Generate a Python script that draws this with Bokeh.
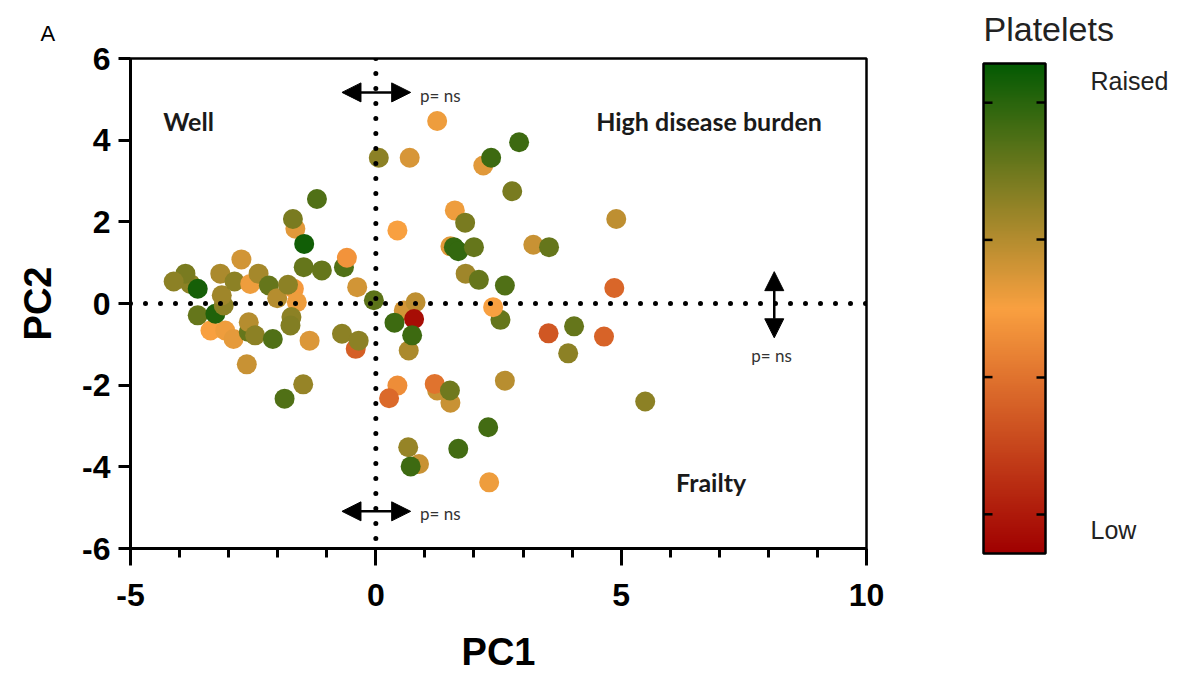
import numpy as np
from bokeh.plotting import figure
from bokeh.layouts import row
from bokeh.models import (ColorBar, LinearColorMapper, FixedTicker, Span, Arrow,
                          NormalHead, Label, ColumnDataSource, Range1d, Title)
from bokeh.transform import linear_cmap
from bokeh.embed import file_html
from bokeh.resources import INLINE

# ---------------- data ----------------
pc1 = [-3.78, -3.88, -4.12, -3.63, -3.63, -3.37, -3.07, -2.90, -3.27, -3.10,
       -3.14, -3.17, -2.74, -2.88, -2.56, -2.39, -2.18, -2.01, -1.67, -1.79,
       -1.61, -1.72, -1.74, -2.59, -2.59, -2.46, -2.10, -1.35, -1.47, -1.10,
       -0.65, -0.59, -0.38, -0.69, -0.41, -0.35, -0.04, -1.64, -1.69, -1.20,
       -1.46, -2.63, -1.48, -1.86,
       1.25, 0.06, 0.69, 2.92, 2.19, 2.35, 2.78, 1.61, 1.82, 0.44,
       4.90, 1.52, 1.59, 1.68, 2.00, 3.21, 3.53, 1.83, 2.10, 2.63,
       4.86, 0.57, 0.81, 2.54, 2.39, 0.38, 0.78, 0.67, 0.74, 3.52,
       4.04, 4.65, 3.92, 2.63, 0.44, 0.27, 1.25, 1.20, 1.52, 1.51,
       5.49, 2.29, 1.68, 0.66, 0.88, 0.71, 2.31]
pc2 = [0.48, 0.73, 0.54, 0.36, -0.29, -0.66, -0.66, -0.87, -0.25, -0.05,
       0.20, 0.73, 1.08, 0.54, 0.48, 0.73, 0.44, 0.13, 0.36, 0.46,
       0.03, -0.33, -0.54, -0.70, -0.46, -0.78, -0.87, -0.91, 0.89, 0.81,
       0.89, 1.12, 0.40, -0.74, -1.11, -0.91, 0.08, 1.83, 2.07, 2.56,
       1.46, -1.49, -1.98, -2.33,
       4.47, 3.57, 3.57, 3.95, 3.38, 3.57, 2.75, 2.28, 1.98, 1.79,
       2.07, 1.40, 1.38, 1.28, 1.38, 1.44, 1.38, 0.73, 0.58, 0.44,
       0.38, -0.17, 0.03, -0.40, -0.09, -0.47, -0.38, -1.15, -0.78, -0.73,
       -0.56, -0.81, -1.22, -1.89, -2.01, -2.32, -2.13, -1.97, -2.43, -2.13,
       -2.40, -3.03, -3.56, -3.52, -3.93, -3.99, -4.38]
platelets = [0.72, 0.76, 0.72, 0.96, 0.80, 0.50, 0.52, 0.54, 0.94, 0.72,
             0.68, 0.66, 0.58, 0.72, 0.52, 0.67, 0.80, 0.64, 0.48, 0.72,
             0.52, 0.72, 0.74, 0.80, 0.64, 0.72, 0.84, 0.56, 0.80, 0.80,
             0.84, 0.46, 0.58, 0.72, 0.30, 0.72, 0.82, 0.55, 0.76, 0.84,
             0.97, 0.60, 0.70, 0.84,
             0.52, 0.72, 0.57, 0.88, 0.55, 0.88, 0.76, 0.52, 0.76, 0.50,
             0.62, 0.55, 0.90, 0.90, 0.80, 0.60, 0.80, 0.68, 0.80, 0.84,
             0.32, 0.58, 0.62, 0.80, 0.50, 0.88, 0.04, 0.66, 0.88, 0.27,
             0.80, 0.31, 0.72, 0.63, 0.44, 0.33, 0.60, 0.36, 0.60, 0.78,
             0.72, 0.87, 0.87, 0.70, 0.60, 0.88, 0.52]

x_major_ticks = [-5, 0, 5, 10]
x_minor_ticks = [-4, -3, -2, -1, 1, 2, 3, 4, 6, 7, 8, 9]
y_major_ticks = [-6, -4, -2, 0, 2, 4, 6]
cbar_label_pos = [0.047, 0.965]
cbar_labels = ["Low", "Raised"]
cbar_minor = [0.08, 0.36, 0.64, 0.92]

# palette: low (red) -> orange -> raised (dark green)
stops = np.array([[160, 0, 0], [249, 160, 64], [3, 90, 3]], dtype=float)
t = np.linspace(0, 1, 256)
palette = []
for v in t:
    if v <= 0.5:
        f = v / 0.5
        c = stops[0] * (1 - f) + stops[1] * f
    else:
        f = (v - 0.5) / 0.5
        c = stops[1] * (1 - f) + stops[2] * f
    palette.append("#%02x%02x%02x" % tuple(int(round(k)) for k in c))

src = ColumnDataSource(dict(pc1=pc1, pc2=pc2, plt=platelets))

p = figure(width=960, height=675, x_range=Range1d(-5, 10), y_range=Range1d(-6, 6),
           output_backend="svg", toolbar_location=None,
           min_border_left=130, min_border_right=94, min_border_top=58, min_border_bottom=127)
p.title = Title(text="A", align="left", offset=-90, vertical_align="top", standoff=21,
                text_font="Liberation Sans", text_font_size="22px",
                text_font_style="normal", text_color="black")
p.xgrid.visible = False
p.ygrid.visible = False
p.outline_line_color = "black"
p.outline_line_width = 2.5
p.background_fill_color = "white"
p.border_fill_color = "white"

# dotted zero lines
p.add_layout(Span(location=0, dimension="width", line_color="black", line_width=5,
                  line_dash="0 15", line_cap="round"))
p.add_layout(Span(location=0, dimension="height", line_color="black", line_width=5,
                  line_dash="0 15", line_cap="round"))

p.scatter("pc1", "pc2", source=src, size=20, line_color=None,
          fill_color=linear_cmap("plt", palette, 0, 1))

# axes
for ax in (p.xaxis[0], p.yaxis[0]):
    ax.axis_line_width = 3
    ax.major_tick_line_width = 3
    ax.minor_tick_line_width = 3
    ax.major_label_text_font = "Liberation Sans"
    ax.major_label_text_font_style = "bold"
    ax.major_label_text_font_size = "32px"
    ax.major_label_text_color = "black"
    ax.axis_label_text_font = "Liberation Sans"
    ax.axis_label_text_font_style = "bold"
    ax.axis_label_text_font_size = "38px"
    ax.axis_label_text_color = "black"
    ax.major_tick_in = 0

p.xaxis.ticker = FixedTicker(ticks=x_major_ticks, minor_ticks=x_minor_ticks)
p.xaxis.major_label_overrides = {t_: str(t_) for t_ in x_major_ticks}
p.xaxis.major_tick_out = 17
p.xaxis.minor_tick_out = 9
p.xaxis.minor_tick_in = 0
p.xaxis.major_label_standoff = 18
p.xaxis.axis_label = "PC1"
p.xaxis.axis_label_standoff = 22

p.yaxis.ticker = FixedTicker(ticks=y_major_ticks, minor_ticks=[])
p.yaxis.major_label_overrides = {t_: str(t_) for t_ in y_major_ticks}
p.yaxis.major_tick_out = 12
p.yaxis.major_label_standoff = 8
p.yaxis.axis_label = "PC2"
p.yaxis.axis_label_standoff = 20

# arrows
def head():
    return NormalHead(size=19, fill_color="black", line_color="black", line_width=1)

for ys in (5.17, -5.09):
    p.add_layout(Arrow(start=head(), end=head(), x_start=-0.69, y_start=ys, x_end=0.71, y_end=ys,
                       line_width=2.5, line_color="black"))
p.add_layout(Arrow(start=head(), end=head(), x_start=8.12, y_start=0.78, x_end=8.12, y_end=-0.84,
                   line_width=2.5, line_color="black"))

def txt(x, y, s, size, bold=False, font="Lato", color="#1a1a1a", align="left"):
    p.add_layout(Label(x=x, y=y, text=s, text_font=font, text_font_size=size,
                       text_font_style="bold" if bold else "normal", text_color=color,
                       text_baseline="middle", text_align=align))

txt(0.9, 5.09, "p= ns", "17px", color="#333333")
txt(0.9, -5.14, "p= ns", "17px", color="#333333")
txt(7.65, -1.27, "p= ns", "17px", color="#333333")
txt(-4.33, 4.48, "Well", "25px", bold=True)
txt(4.49, 4.48, "High disease burden", "25px", bold=True)
txt(6.12, -4.36, "Frailty", "25px", bold=True)

# ---------------- colour bar panel ----------------
# frame of this panel lines up with the main frame (58..548 px); the bar sits 5 px lower
p2 = figure(width=225, height=675, x_range=Range1d(0, 1), y_range=Range1d(5 / 490, 1 + 5 / 490),
            output_backend="svg", toolbar_location=None,
            x_axis_location=None, y_axis_location=None,
            min_border_left=23, min_border_right=140, min_border_top=58, min_border_bottom=127)
p2.grid.visible = False
p2.outline_line_color = None
p2.title = Title(text="Platelets", align="left", offset=0, vertical_align="top", standoff=18,
                 text_font="Liberation Sans", text_font_size="34px",
                 text_font_style="normal", text_color="#222222")

mapper = LinearColorMapper(palette=palette, low=0, high=1)
cb = ColorBar(color_mapper=mapper, width=62, height=490, padding=0,
              location=(0, -5),
              ticker=FixedTicker(ticks=cbar_label_pos, minor_ticks=cbar_minor),
              major_label_overrides=dict(zip(cbar_label_pos, cbar_labels)),
              major_tick_line_color=None,
              minor_tick_in=9, minor_tick_out=0,
              minor_tick_line_color="black", minor_tick_line_width=2.5,
              label_standoff=45,
              major_label_text_font="Liberation Sans",
              major_label_text_font_size="25px",
              major_label_text_color="#222222",
              bar_line_color="black", bar_line_width=2.5,
              background_fill_alpha=0, border_line_color=None)
p2.add_layout(cb, "center")

# matching tick marks on the bar's left edge
p2.segment(x0=[0] * len(cbar_minor), x1=[9 / 62] * len(cbar_minor), y0=cbar_minor, y1=cbar_minor,
           line_color="black", line_width=2.5, level="overlay")

layout = row(p, p2, spacing=0)
open("out.html", "w").write(file_html(layout, INLINE))
